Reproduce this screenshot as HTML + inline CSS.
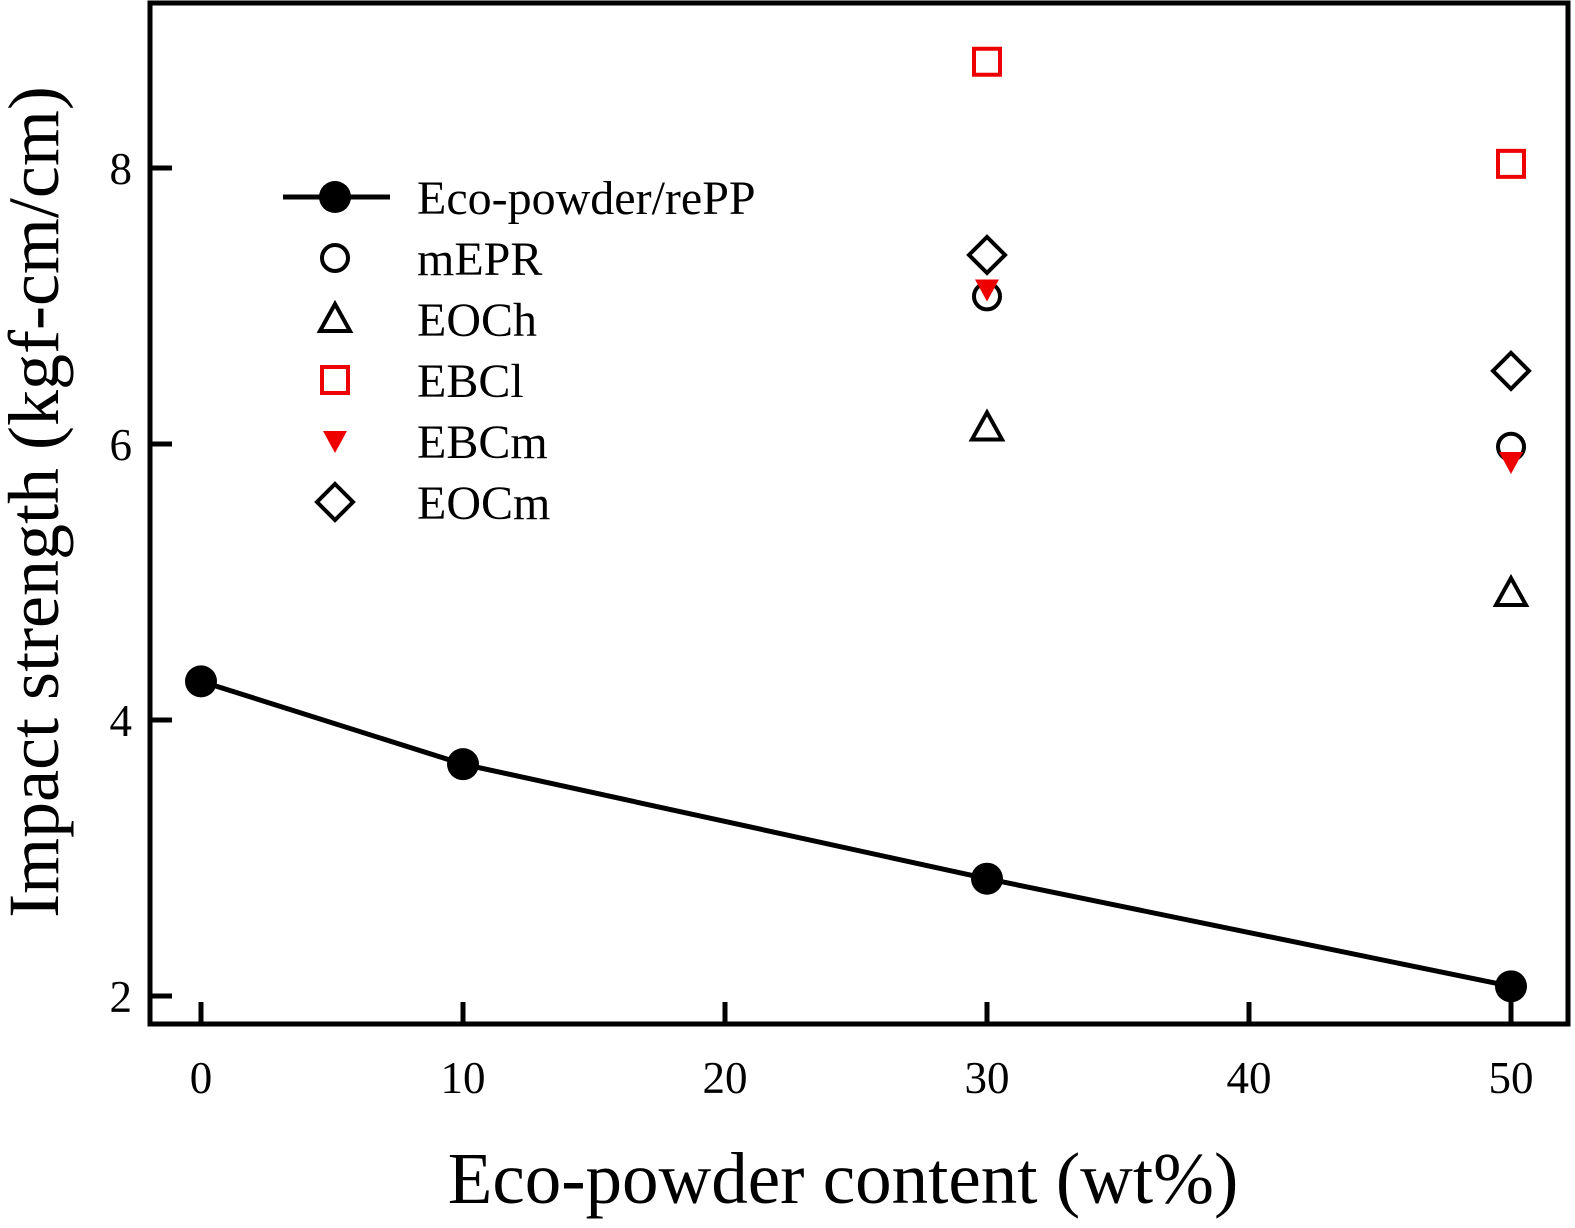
<!DOCTYPE html>
<html><head><meta charset="utf-8"><style>
html,body{margin:0;padding:0;background:#fff}
svg text{font-family:"Liberation Serif",serif;fill:#000}
</style></head><body>
<svg width="1575" height="1223" viewBox="0 0 1575 1223">
<g id="axes"></g>
<g id="marks"></g>
<g id="legend"></g>
<text x="34" y="502" font-size="72" text-anchor="middle" transform="rotate(-90 34 502)" dominant-baseline="central">Impact strength (kgf-cm/cm)</text>
<text x="843" y="1203" font-size="73" text-anchor="middle">Eco-powder content (wt%)</text>
</svg>
<script>
const xTicks=[0,10,20,30,40,50];
const yTicks=[2,4,6,8];
const baseX=[0,10,30,50];
const baseY=[4.28,3.68,2.85,2.07];
const ptX=[30,50];
const mEPR=[7.07,5.98];
const EOCh=[6.12,4.92];
const EBCl=[8.77,8.03];
const EBCm=[7.12,5.87];
const EOCm=[7.37,6.53];
const NS="http://www.w3.org/2000/svg";
const L=150,R=1568,T=3,B=1024;
function sx(v){return 201+(v-0)*26.2;}
function sy(v){return 996-(v-2)*138;}
function mk(tag,attrs,parent){const e=document.createElementNS(NS,tag);for(const k in attrs)e.setAttribute(k,attrs[k]);parent.appendChild(e);return e;}
const ax=document.getElementById('axes'),mg=document.getElementById('marks'),lg=document.getElementById('legend');
let f=mk('rect',{x:L,y:T,width:R-L,height:B-T,fill:'none',stroke:'#000','stroke-width':5},ax);


xTicks.forEach(v=>{
 let t=mk('line',{x1:sx(v),x2:sx(v),y1:B,y2:B-22,stroke:'#000','stroke-width':5},ax);
 
 
 let l=mk('text',{x:sx(v),y:1093,'font-size':45,'text-anchor':'middle'},ax);l.textContent=v;
 
 
});
yTicks.forEach(v=>{
 let t=mk('line',{x1:L,x2:L+22,y1:sy(v),y2:sy(v),stroke:'#000','stroke-width':5},ax);
 
 
 let l=mk('text',{x:132,y:sy(v)+16,'font-size':45,'text-anchor':'end'},ax);l.textContent=v;
 
 
});
function marker(type,x,y,parent,name){
 let e;
 if(type==='fill')e=mk('circle',{cx:x,cy:y,r:16,fill:'#000'},parent);
 else if(type==='circle')e=mk('circle',{cx:x,cy:y,r:13,fill:'none',stroke:'#000','stroke-width':4},parent);
 else if(type==='tri')e=mk('polygon',{points:`${x},${y-15} ${x+15},${y+12} ${x-15},${y+12}`,fill:'none',stroke:'#000','stroke-width':4},parent);
 else if(type==='sq')e=mk('rect',{x:x-13,y:y-13,width:26,height:26,fill:'none',stroke:'#e00','stroke-width':4},parent);
 else if(type==='dtri')e=mk('polygon',{points:`${x-12},${y-10} ${x+12},${y-10} ${x},${y+12}`,fill:'#e00'},parent);
 else if(type==='dia')e=mk('polygon',{points:`${x},${y-18} ${x+18},${y} ${x},${y+18} ${x-18},${y}`,fill:'none',stroke:'#000','stroke-width':4},parent);
 
 
 return e;
}
let pl=mk('polyline',{points:baseX.map((v,i)=>sx(v)+','+sy(baseY[i])).join(' '),fill:'none',stroke:'#000','stroke-width':5},mg);


baseX.forEach((v,i)=>marker('fill',sx(v),sy(baseY[i]),mg,'eco-powder-point'));
ptX.forEach((v,i)=>{
 marker('sq',sx(v),sy(EBCl[i]),mg,'ebcl-point');
 marker('dia',sx(v),sy(EOCm[i]),mg,'eocm-point');
 marker('circle',sx(v),sy(mEPR[i]),mg,'mepr-point');
 marker('dtri',sx(v),sy(EBCm[i]),mg,'ebcm-point');
 marker('tri',sx(v),sy(EOCh[i]),mg,'eoch-point');
});
const legNames=['Eco-powder/rePP','mEPR','EOCh','EBCl','EBCm','EOCm'];
const legTypes=['fill','circle','tri','sq','dtri','dia'];
legNames.forEach((n,i)=>{
 const y=197+i*61;
 if(i===0){let ln=mk('line',{x1:283,x2:390,y1:y,y2:y,stroke:'#000','stroke-width':5},lg);
  
  }
 marker(legTypes[i],335,y,lg,'legend-marker');
 let t=mk('text',{x:417,y:y+17,'font-size':48},lg);t.textContent=n;
 
 
});
</script>
</body></html>
